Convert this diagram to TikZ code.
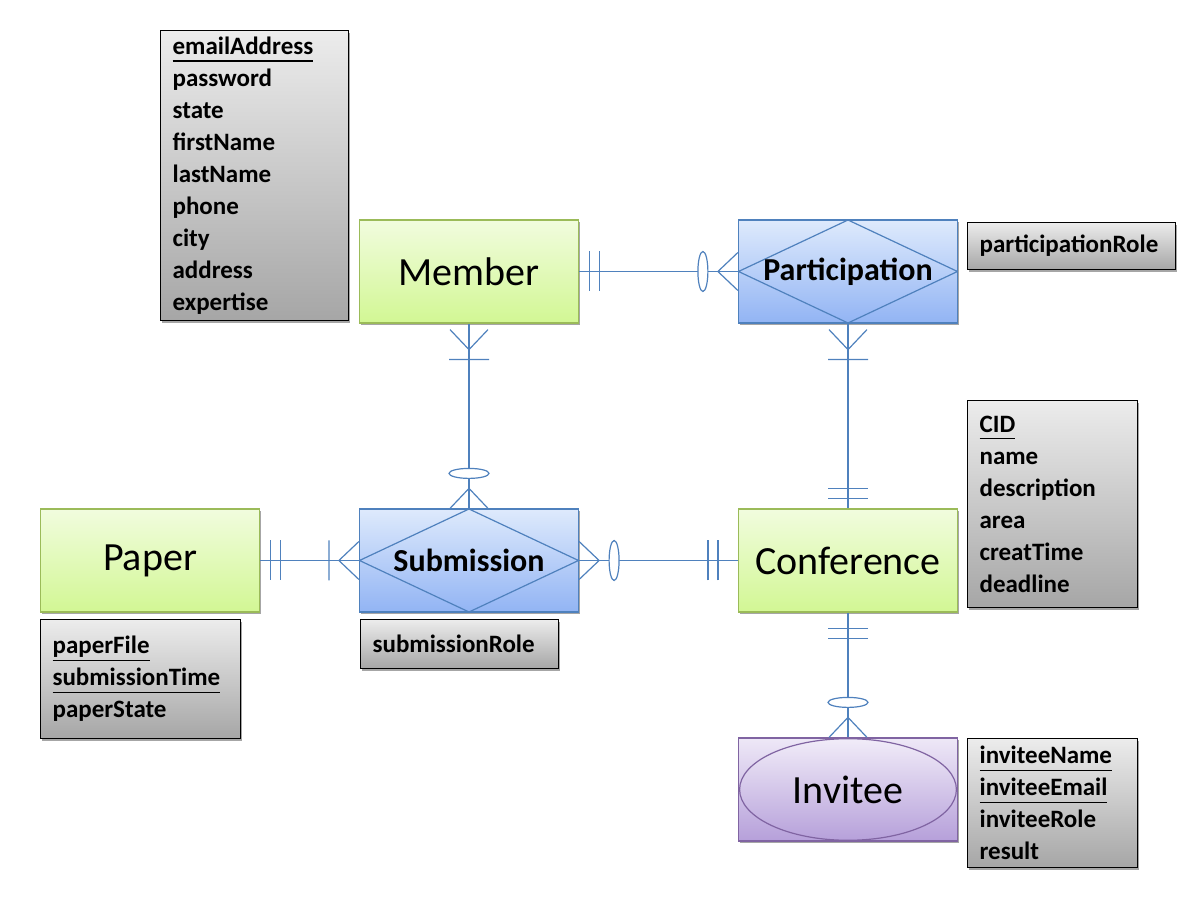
\documentclass[tikz,border=0pt]{standalone}
\usepackage{fontspec}
\setmainfont{Carlito}
\usetikzlibrary{shadows}
\definecolor{entline}{RGB}{155,187,89}
\definecolor{enttop}{RGB}{241,252,222}
\definecolor{entbot}{RGB}{210,247,148}
\definecolor{relline}{RGB}{79,129,189}
\definecolor{reltop}{RGB}{222,234,252}
\definecolor{relbot}{RGB}{146,180,244}
\definecolor{invline}{RGB}{128,100,162}
\definecolor{invtop}{RGB}{238,232,247}
\definecolor{invbot}{RGB}{182,160,218}
\definecolor{attrtop}{RGB}{236,236,236}
\definecolor{attrbot}{RGB}{166,166,166}
\newcommand{\keyattr}[1]{\leavevmode\setbox0\hbox{#1}\rlap{\rule[-3.6pt]{\wd0}{0.7pt}}\box0}
\tikzset{
  softshadow/.style = {drop shadow={shadow xshift=0.8pt, shadow yshift=-1.2pt, opacity=0.35, fill=black}},
  entity/.style  = {draw=entline, line width=0.6pt, top color=enttop, bottom color=entbot,
                    minimum width=109.5pt, minimum height=51.5pt, font=\fontsize{20}{24}\selectfont, softshadow},
  relship/.style = {entity, draw=relline, top color=reltop, bottom color=relbot,
                    font=\bfseries\fontsize{16}{19}\selectfont,
                    path picture={\draw[relline, line width=0.6pt] (path picture bounding box.north)
                      -- (path picture bounding box.east) -- (path picture bounding box.south)
                      -- (path picture bounding box.west) -- cycle;}},
  weak/.style    = {entity, draw=invline, top color=invtop, bottom color=invbot,
                    path picture={\draw[invline, line width=0.6pt, top color=invtop!80!white, bottom color=invbot]
                      (path picture bounding box.center) ellipse [x radius=54.2pt, y radius=25.4pt];}},
  attr/.style    = {draw=black, line width=0.6pt, top color=attrtop, bottom color=attrbot, anchor=north west,
                    inner xsep=6pt, inner ysep=2pt, align=left, font=\bfseries\fontsize{12.5}{16}\selectfont, softshadow},
  rel/.style     = {relline, line width=0.6pt},
  pics/dbar/.style     = {code={\draw[rel] (#1,-20) -- (#1,20) (#1+10,-20) -- (#1+10,20);}},
  pics/crowbar/.style  = {code={\draw[rel] (#1,-19) -- (#1+20,0) -- (#1,19) (#1+30,-20) -- (#1+30,20);}},
  pics/crowzero/.style = {code={\draw[rel] (0,-19) -- (20,0) -- (0,19);
                                \draw[rel, fill=white] (35,0) ellipse [x radius=5, y radius=20];}},
}
\begin{document}
\begin{tikzpicture}[x=0.5pt, y=-0.5pt]
    \useasboundingbox (0,0) rectangle (1196,898);
    \node[entity]  (member) at (469,271.5) {Member};
    \node[relship] (part)   at (848,271.5) {Participation};
    \node[entity]  (paper)  at (150,560.5) {Paper};
    \node[relship] (sub)    at (469,560.5) {Submission};
    \node[entity]  (conf)   at (848,560.5) {Conference};
    \node[weak]    (inv)    at (848,789.5) {Invitee};
    \node[attr, text width=82pt, minimum height=145pt] (memberattr) at (160,30)
        {\keyattr{emailAddress}\\password\\state\\firstName\\lastName\\phone\\city\\address\\expertise};
    \node[attr, text width=92pt, minimum height=23.5pt] (partattr) at (967,222) {participationRole};
    \node[attr, text width=87pt, minimum height=24.5pt] (subattr) at (360,619) {submissionRole};
    \node[attr, text width=88pt, minimum height=59.5pt] (paperattr) at (40,619)
        {\keyattr{paperFile}\\\keyattr{submissionTime}\\paperState};
    \node[attr, text width=73pt, minimum height=103.5pt] (confattr) at (967,400)
        {\keyattr{CID}\\name\\description\\area\\creatTime\\deadline};
    \node[attr, text width=73pt, minimum height=64.5pt] (invattr) at (967,738)
        {\keyattr{inviteeName}\\\keyattr{inviteeEmail}\\inviteeRole\\result};
    \draw[rel] (member) -- (part);
    \draw[rel] (member) -- (sub);
    \draw[rel] (part) -- (conf);
    \draw[rel] (paper) -- (sub);
    \draw[rel] (sub) -- (conf);
    \draw[rel] (conf) -- (inv);
    \pic at (member.east) {dbar=10};
    \pic[rotate=180] at (part.west) {crowzero};
    \pic[rotate=-90] at (member.south) {crowbar=6};
    \pic[rotate=90] at (sub.north) {crowzero};
    \pic[rotate=-90] at (part.south) {crowbar=6};
    \pic[rotate=90] at (conf.north) {dbar=10};
    \pic at (paper.east) {dbar=10};
    \pic[rotate=180] at (sub.west) {crowbar=0};
    \pic at (sub.east) {crowzero};
    \pic[rotate=180] at (conf.west) {dbar=20};
    \pic[rotate=-90] at (conf.south) {dbar=16};
    \pic[rotate=90] at (inv.north) {crowzero};
\end{tikzpicture}
\end{document}
